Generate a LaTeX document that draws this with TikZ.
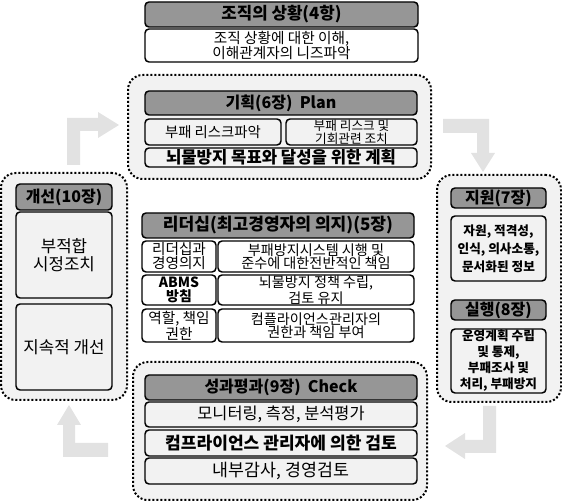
\documentclass[tikz,border=0pt]{standalone}
\usepackage{fontspec}
\setmainfont{Noto Sans CJK KR}
\definecolor{hdrgray}{RGB}{150,150,150}
\definecolor{boxgray}{RGB}{242,242,242}
\definecolor{arrowgray}{RGB}{226,226,226}
\tikzset{
  hdr/.style={draw, line width=1.1pt, rounded corners=3pt, fill=hdrgray, inner sep=0pt, align=center, font=\bfseries\fontsize{12}{14}\selectfont},
  bx/.style={draw, line width=1.1pt, rounded corners=3pt, fill=boxgray, inner sep=0pt, align=center},
  wbx/.style={bx, fill=white},
  grp/.style={draw, line width=1.5pt, dash pattern=on 1.5pt off 1.5pt, rounded corners=11pt, fill=boxgray, inner sep=0pt},
  blk/.style={fill=arrowgray, draw=none},
  fa/.style={font=\fontsize{10.6}{10}\selectfont},
  fs/.style={font=\fontsize{11}{10.5}\selectfont},
  fb/.style={font=\bfseries\fontsize{10.5}{10.5}\selectfont},
  fc/.style={font=\fontsize{12.3}{14}\selectfont},
  fd/.style={font=\bfseries\fontsize{9.5}{12}\selectfont},
}
% box from pixel corners: style, name, x1, y1, x2, y2, text
\newcommand\pbx[7]{%
  \pgfmathsetmacro\pbxcx{(#3+#5)/2}%
  \pgfmathsetmacro\pbxcy{(#4+#6)/2}%
  \pgfmathsetmacro\pbxw{(#5-#3)*0.75}%
  \pgfmathsetmacro\pbxh{(#6-#4)*0.75}%
  \node[#1, minimum width=\pbxw pt, minimum height=\pbxh pt] (#2) at (\pbxcx,\pbxcy) {#7};%
}
\begin{document}
\begin{tikzpicture}[x=0.75pt, y=-0.75pt]
\useasboundingbox (0,0) rectangle (562,503);
% group containers
\pbx{grp}{gplan}{128}{75}{431}{179}{}
\pbx{grp}{gimp}{1}{173}{127}{400}{}
\pbx{grp}{gsup}{437}{175}{561}{402}{}
\pbx{grp}{gchk}{133}{362}{427}{500}{}
% block arrows
\fill[blk] (67,165) -- (67,118) -- (98,118) -- (98,112) -- (119,125) -- (98,138) -- (98,131) -- (80,131) -- (80,165) -- cycle;
\fill[blk] (443,119) -- (489,119) -- (489,153) -- (495,153) -- (483,172) -- (471,153) -- (477,153) -- (477,133) -- (443,133) -- cycle;
\fill[blk] (483,406) -- (496,406) -- (496,453) -- (465,453) -- (465,459) -- (445,446) -- (465,433) -- (465,440) -- (483,440) -- cycle;
\fill[blk] (108,443) -- (75,443) -- (75,425) -- (81,425) -- (69,405) -- (57,425) -- (63,425) -- (63,457) -- (108,457) -- cycle;
% context
\pbx{hdr, font=\bfseries\fontsize{12.6}{14}\selectfont}{ctxh}{145}{2}{418}{27}{조직의 상황(4항)}
\pbx{wbx, font=\fontsize{11}{11.3}\selectfont}{ctxb}{145}{29}{418}{62}{조직 상황에 대한 이해,\\이해관계자의 니즈파악}
% plan
\pbx{hdr}{planh}{145}{91}{417}{115}{기획(6장)\ \ Plan}
\pbx{bx, font=\fontsize{10.8}{11}\selectfont}{plan1}{145}{119}{281}{145}{부패 리스크파악}
\pbx{bx, font=\fontsize{9.5}{7.8}\selectfont}{plan2}{286}{119}{417}{145}{부패 리스크 및\\기회관련 조치}
\pbx{bx, font=\bfseries\fontsize{12.5}{12}\selectfont}{plan3}{145}{148}{417}{167}{뇌물방지 목표와 달성을 위한 계획}
% improvement
\pbx{hdr}{imph}{16}{184}{112}{210}{개선(10장)}
\pbx{bx, font=\fontsize{12.6}{13}\selectfont}{imp1}{16}{212}{112}{298}{부적합\\시정조치}
\pbx{bx, font=\fontsize{12.6}{13}\selectfont}{imp2}{16}{304}{112}{390}{지속적 개선}
% support / operation
\pbx{hdr}{suph}{451}{188}{546}{208}{지원(7장)}
\pbx{bx, font=\bfseries\fontsize{9.5}{13.5}\selectfont}{sup1}{451}{216}{546}{281}{자원, 적격성,\\인식, 의사소통,\\문서화된 정보}
\pbx{hdr}{oph}{451}{300}{546}{320}{실행(8장)}
\pbx{bx, fd}{op1}{451}{329}{546}{393}{운영계획 수립\\및 통제,\\부패조사 및\\처리, 부패방지}
% leadership
\pbx{hdr, font=\bfseries\fontsize{12.8}{14}\selectfont}{ldh}{142}{213}{414}{238}{리더십(최고경영자의 의지)(5장)}
\pbx{wbx, fs}{ld1a}{142}{241}{216}{272}{리더십과\\경영의지}
\pbx{wbx, fa}{ld1b}{218}{241}{414}{272}{부패방지시스템 시행 및\\준수에 대한전반적인 책임}
\pbx{wbx, fb}{ld2a}{142}{275}{216}{305}{ABMS\\방침}
\pbx{wbx, fa}{ld2b}{218}{275}{414}{305}{뇌물방지 정책 수립,\\검토 유지}
\pbx{wbx, fs}{ld3a}{142}{309}{216}{342}{역할, 책임\\권한}
\pbx{wbx, fa}{ld3b}{218}{309}{414}{342}{컴플라이언스관리자의\\권한과 책임 부여}
% check
\pbx{hdr}{chkh}{145}{375}{417}{400}{성과평과(9장)\ \ Check}
\pbx{bx, fc}{chk1}{145}{402}{417}{427}{모니터링, 측정, 분석평가}
\pbx{bx, font=\bfseries\fontsize{12.8}{13}\selectfont}{chk2}{145}{430}{417}{456}{컴프라이언스 관리자에 의한 검토}
\pbx{bx, font=\fontsize{13}{13}\selectfont}{chk3}{145}{458}{417}{484}{내부감사, 경영검토}
\end{tikzpicture}
\end{document}
